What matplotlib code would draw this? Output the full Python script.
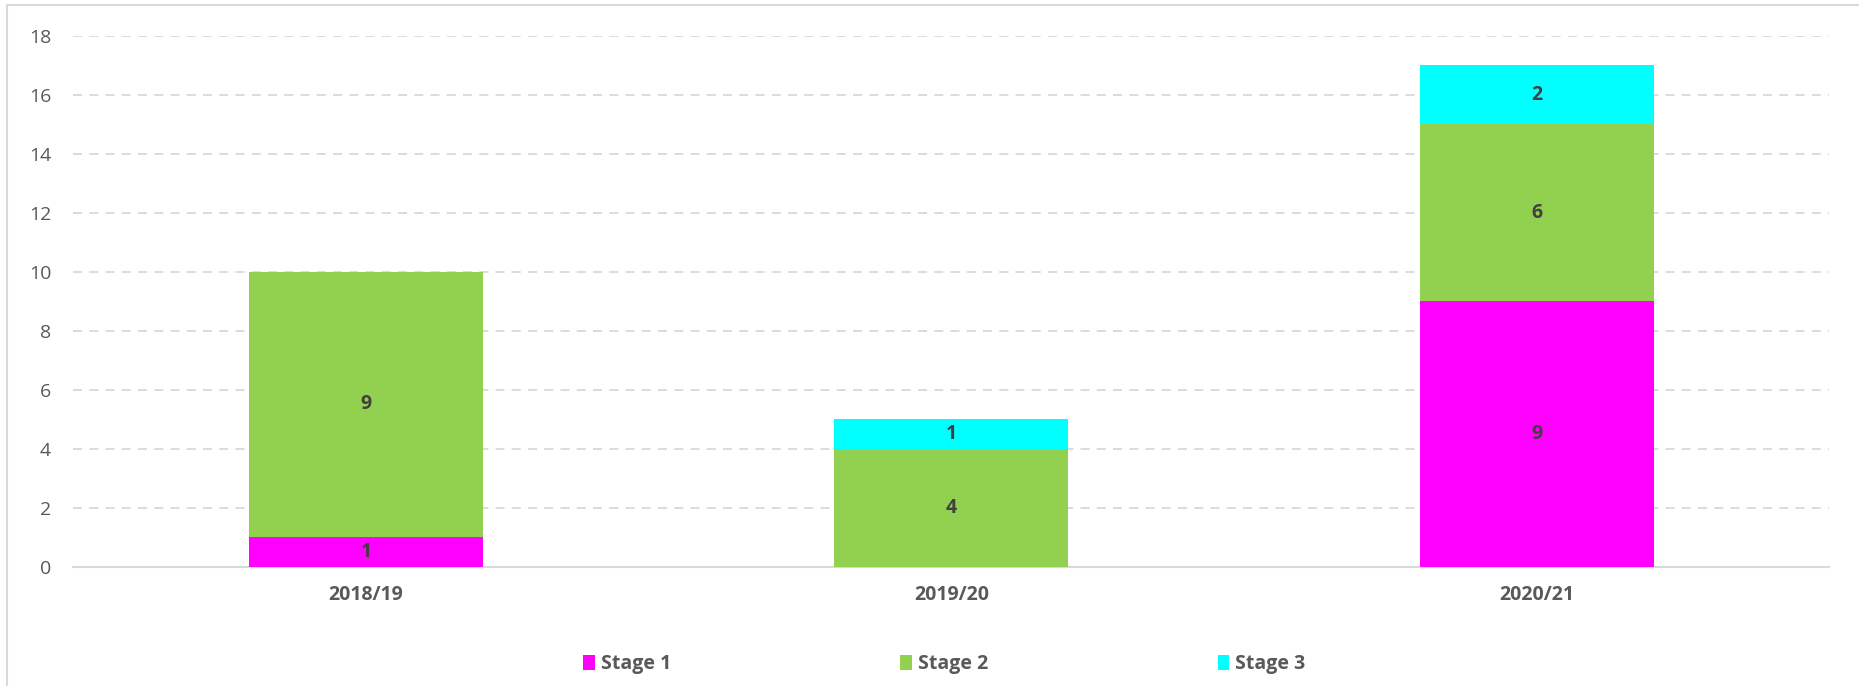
import numpy as np
import matplotlib.pyplot as plt
from matplotlib.patches import Rectangle, Patch

# Data
years = ["2018/19", "2019/20", "2020/21"]
stage1 = [1, 0, 9]
stage2 = [9, 4, 6]
stage3 = [0, 1, 2]
series_names = ["Stage 1", "Stage 2", "Stage 3"]
colors = ["#FF00FF", "#92D050", "#00FFFF"]

plt.rcParams['font.family'] = ['Open Sans', 'DejaVu Sans']

fig = plt.figure(figsize=(18.59, 6.86), dpi=100)
ax = fig.add_axes([0.0395, 0.174, 0.9445, 0.774])

# light frame around the chart area
fig.patches.append(Rectangle((7 / 1859, -0.05), 1.1, 1 - 5 / 686 + 0.05,
                             transform=fig.transFigure, fill=False,
                             edgecolor="#D9D9D9", linewidth=1.5))

x = np.arange(len(years))
width = 0.4
bottom = np.zeros(len(years))
for vals, name, col in zip([stage1, stage2, stage3], series_names, colors):
    vals = np.array(vals)
    bars = ax.bar(x, vals, width, bottom=bottom, color=col, label=name, zorder=3)
    labels = [str(v) if v > 0 else "" for v in vals]
    ax.bar_label(bars, labels=labels, label_type='center', fontsize=14,
                 fontweight='bold', color="#404040")
    bottom += vals

ax.set_xlim(-0.5, 2.5)
ax.set_ylim(0, 18)
ax.set_yticks(np.arange(0, 19, 2))
ax.set_xticks(x)
ax.set_xticklabels(years, fontsize=14, fontweight='bold', color="#595959")
ax.tick_params(axis='y', length=0, pad=16, labelsize=14, labelcolor="#595959")
ax.tick_params(axis='x', length=0, pad=13)

for s in ["top", "right", "left"]:
    ax.spines[s].set_visible(False)
ax.spines["bottom"].set_color("#D9D9D9")
ax.spines["bottom"].set_linewidth(1.5)
ax.grid(axis='y', color="#D9D9D9", linestyle=(0, (5, 4)), linewidth=1.3, zorder=0)
ax.yaxis.get_gridlines()[0].set_visible(False)

handles = [Patch(facecolor=c, label=n) for c, n in zip(colors, series_names)]
leg = fig.legend(handles=handles, loc='center', bbox_to_anchor=(0.508, 0.032),
                 ncol=3, frameon=False, handlelength=0.6, handleheight=0.8,
                 handletextpad=0.3, columnspacing=11.8,
                 prop={'weight': 'bold', 'size': 14})
for t in leg.get_texts():
    t.set_color("#595959")

fig.savefig("out.png", dpi=100)
